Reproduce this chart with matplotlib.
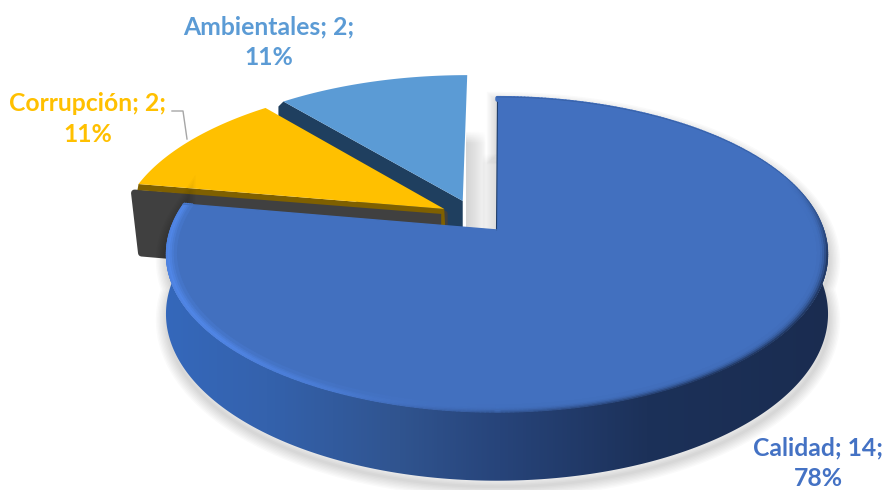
import numpy as np
import matplotlib
matplotlib.use("Agg")
import matplotlib.pyplot as plt
from matplotlib.collections import LineCollection
from matplotlib.colors import LinearSegmentedColormap, to_rgb
from matplotlib.patches import Polygon

categories = ["Calidad", "Corrupción", "Ambientales"]
values = [14, 2, 2]

# styles
face_colors = ["#4270bf", "#ffc000", "#5b9bd5"]
label_colors = ["#4472c4", "#ffc000", "#5b9bd5"]
label_pos = [(818, 463), (88, 119), (269, 42)]
explode = [(0.0, 0.0), (-0.165, 0.14), (-0.108, 0.195)]

# pie seen in perspective: apex, radii, perspective factor, thickness (pixels)
CX, CY = 497, 230
RX, RY = 327, 153.7
K = 0.1556
H = 58


def project(u, v, h=0.0):
    s = 1 / (1 + K * v)
    return CX + RX * u * s, CY - RY * v * s + h * s


def arc(t0, t1, off=(0, 0), h=0.0, r=1.0, n=200):
    # t0, t1 in degrees, clockwise from 12 o'clock
    t = np.radians(np.linspace(t0, t1, n))
    x, y = project(off[0] + r * np.sin(t), off[1] + r * np.cos(t), h)
    return np.column_stack([x, y])


fig = plt.figure(figsize=(8.87, 4.9), dpi=100)
ax = fig.add_axes([0, 0, 1, 1])
ax.axis("off")

angles = np.cumsum([0] + values) / sum(values) * 360
a0, a1, a2, a3 = angles

# soft shadow in the gap behind the light blue slice
fade = np.clip((np.linspace(0, 1, 60)[:, None]) * 8, 0, 1)
for ext, ramp in [((466, 486, 232, 130), 0.17 * np.linspace(1, 0, 60)[None, :] ** 0.6),
                  ((482, 497, 232, 153), 0.14 * np.linspace(0, 1, 60)[None, :] ** 0.6)]:
    rgba = np.zeros((60, 60, 4))
    rgba[..., 3] = fade * ramp
    ax.imshow(rgba, extent=ext, aspect="auto", zorder=1)

# Ambientales: dark cut wall, then top face
off = explode[2]
ax_edge = project(off[0], off[1])
outer = arc(a2, a2, off, n=1)[0]
wall = [outer, ax_edge, (ax_edge[0], ax_edge[1] + H), (outer[0] - 5, outer[1] + H), (outer[0] - 5, outer[1] + 5)]
ax.add_patch(Polygon(wall, closed=True, fc="#1f3f5f", ec="none", zorder=2))
pts = np.vstack([[ax_edge], arc(a2, a3, off)])
ax.add_patch(Polygon(pts, closed=True, fc=face_colors[2], ec="none", zorder=3))

# Corrupción: grey wall, dark yellow strip, top face
off = explode[1]
ap = project(off[0], off[1])
outer = arc(a1, a1, off, n=1)[0]
wall = [(outer[0] - 4, outer[1] + 9), (ap[0], ap[1] + 5), (ap[0], ap[1] + 70), (outer[0] + 3, outer[1] + 69)]
ax.add_patch(Polygon(wall, closed=True, fc="#404040", ec="#404040", lw=5, joinstyle="round", zorder=4))
strip = [outer, ap, (ap[0] + 1, ap[1] + 18), (ap[0] - 3, ap[1] + 18), (ap[0] - 3, ap[1] + 5), (outer[0] - 1, outer[1] + 6)]
ax.add_patch(Polygon(strip, closed=True, fc="#7f6000", ec="none", zorder=5))
pts = np.vstack([[ap], arc(a1, a2, off)])
ax.add_patch(Polygon(pts, closed=True, fc=face_colors[1], ec="none", zorder=6))

# Calidad: shadow, side wall with horizontal gradient, top face
top_rim = arc(a0, a1, n=400)
low_rim = arc(a0, a1, h=H, n=400)
body = np.vstack([top_rim, low_rim[::-1]])

for lw in [2, 4, 6, 8, 10, 12, 14, 16]:
    ax.add_patch(Polygon(body + [1, 6], closed=True, fc="none", ec="k", lw=lw, alpha=0.02, zorder=7))

wall_cmap = LinearSegmentedColormap.from_list(
    "wall", [(0.0, "#3568bb"), (0.15, "#3462ad"), (0.35, "#30548f"), (0.5, "#27447a"),
             (0.72, "#1c3159"), (1.0, "#1a2c50")])
grad = np.linspace(0, 1, 512)[None, :]
im = ax.imshow(grad, cmap=wall_cmap, extent=[165, 835, 490, 90], aspect="auto", zorder=8)
clip = Polygon(body, closed=True, transform=ax.transData, fc="none", ec="none")
ax.add_patch(clip)
im.set_clip_path(clip)

apex = project(0, 0)
pts = np.vstack([[apex], top_rim])
ax.add_patch(Polygon(pts, closed=True, fc=face_colors[0], ec="none", zorder=9))
ax.plot([apex[0] - 0.5, apex[0] + 0.5], [apex[1], top_rim[0][1]], color="#1f3d6a", lw=0.8, zorder=9)

# bevel along the rim of the top face: light on the left, dark on the right
theta = np.linspace(a0, a1, 400)
mid = theta[:-1]
dark = np.clip((205 - mid) / 60, 0, 1) * np.clip((mid - 70) / 30, 0, 1)
light = np.clip((mid - 180) / 50, 0, 1)
base = np.array(to_rgb(face_colors[0]))
hi = np.array(to_rgb("#5288ea"))
lo = np.array(to_rgb("#1a2c50"))
for r, f_hi, f_lo in [(0.996, 0.8, 0.8), (0.990, 0.9, 0.5), (0.984, 0.7, 0.25),
                      (0.978, 0.45, 0.1), (0.972, 0.2, 0.03)]:
    line = arc(a0, a1, r=r, n=400)
    segs = np.stack([line[:-1], line[1:]], axis=1)
    cols = base + (hi - base) * (light * f_hi)[:, None] + (lo - base) * (dark * f_lo)[:, None]
    ax.add_collection(LineCollection(segs, colors=np.clip(cols, 0, 1), lw=2.2, capstyle="round", zorder=10))

# thin dark outline on the upper right of the rim
edge = arc(a0, 85, n=200)
ax.plot(edge[:, 0], edge[:, 1], color="#2a4c85", lw=0.5, alpha=0.5, zorder=11)

# re-draw the straight cut so the bevel stays inside
tip = arc(a1, a1, n=1)[0]
ax.plot([tip[0], apex[0]], [tip[1], apex[1]], color=face_colors[0], lw=1, zorder=11)

# leader line for Corrupción
ax.plot([172, 183, 187], [111, 111, 139], color="#a6a6a6", lw=1, zorder=6)

# labels
total = sum(values)
for cat, val, col, (lx, ly) in zip(categories, values, label_colors, label_pos):
    txt = f"{cat}; {val};\n{round(val / total * 100)}%"
    ax.text(lx, ly, txt, color=col, ha="center", va="center", family="Lato",
            fontweight="bold", fontsize=17.8, linespacing=1.42, zorder=12)

ax.set_xlim(0, 887)
ax.set_ylim(490, 0)
fig.savefig("out.png", dpi=100)
